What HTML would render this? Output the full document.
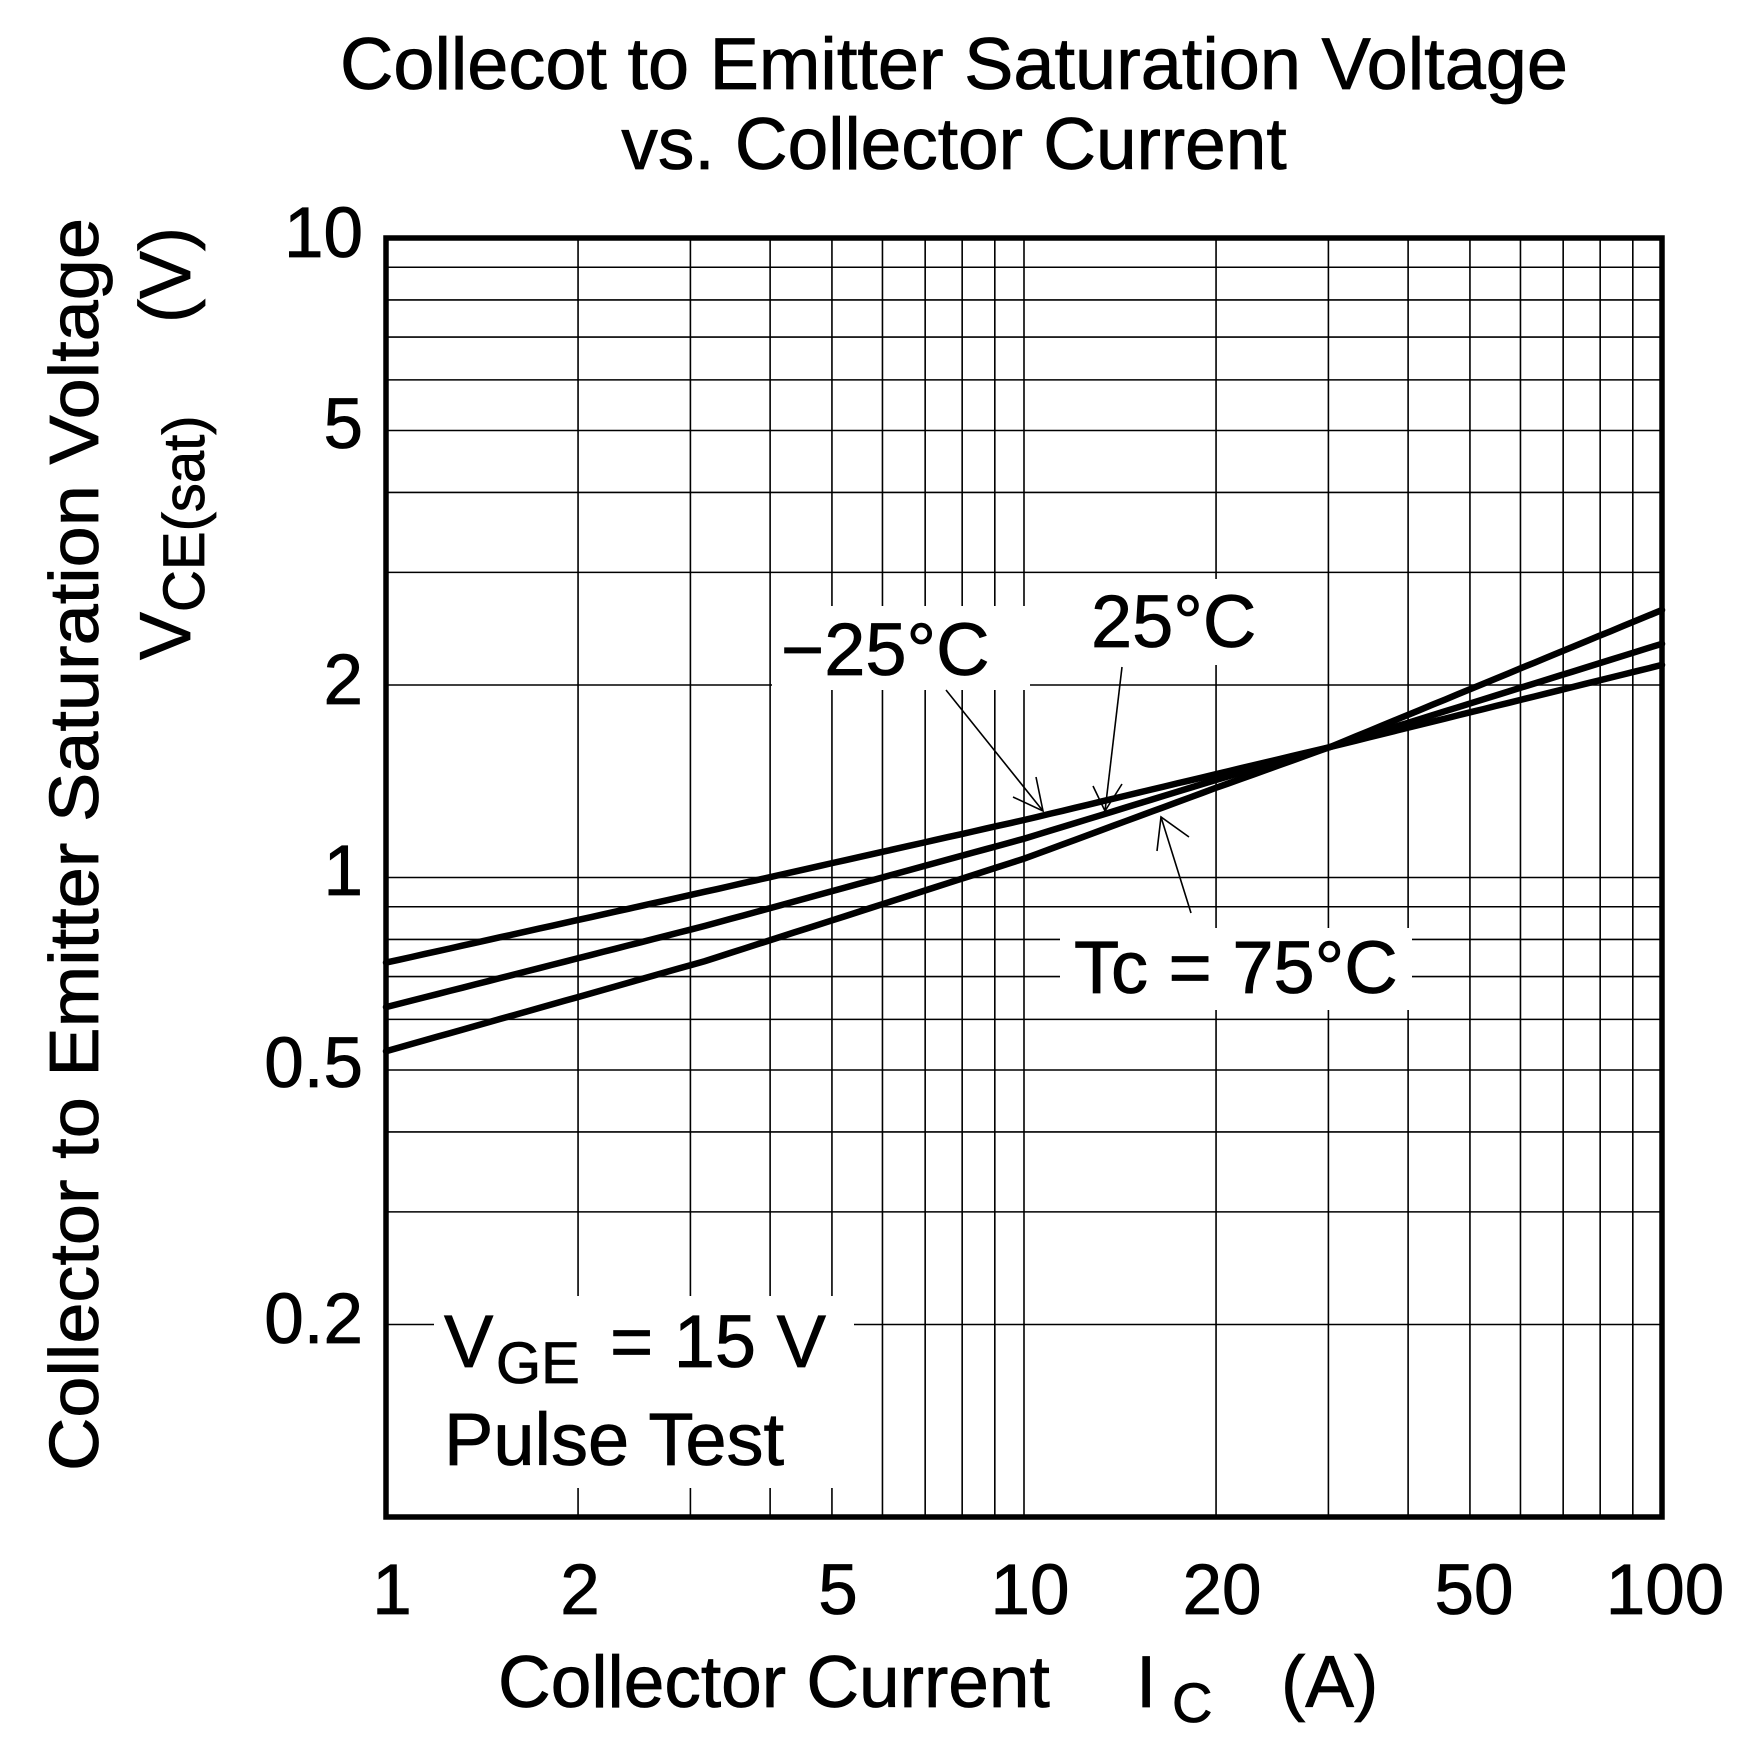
<!DOCTYPE html>
<html><head><meta charset="utf-8">
<style>
html,body{margin:0;padding:0;background:#fff;}
svg{display:block;}
text{font-family:"Liberation Sans",Arial,sans-serif;fill:#000;stroke:#000;stroke-width:0.8;}
</style></head>
<body>
<svg id="s" width="1747" height="1744" viewBox="0 0 1747 1744" xmlns="http://www.w3.org/2000/svg">
<g id="grid" stroke="#000" stroke-width="1.6"></g>
<g id="bg" fill="#fff"></g>
<g id="curves" fill="none" stroke="#000" stroke-width="6.5" stroke-linecap="round"></g>
<rect x="386" y="238" width="1276" height="1279" fill="none" stroke="#000" stroke-width="5.5"/>
<g stroke="#000" stroke-width="1.6" fill="none">
<line x1="946" y1="690" x2="1043" y2="811"/>
<polyline points="1013,797 1043,811 1036,777"/>
<line x1="1122" y1="667" x2="1105" y2="811"/>
<polyline points="1093,786 1105,811 1122,784"/>
<line x1="1191" y1="913" x2="1161" y2="817"/>
<polyline points="1157,851 1161,817 1189,837"/>
</g>
<g font-size="73">
<text x="954" y="89" text-anchor="middle" textLength="1228" lengthAdjust="spacingAndGlyphs">Collecot to Emitter Saturation Voltage</text>
<text x="954" y="169" text-anchor="middle">vs. Collector Current</text>
</g>
<g font-size="71" text-anchor="end">
<text x="363" y="257">10</text>
<text x="363" y="448">5</text>
<text x="363" y="704">2</text>
<text x="363" y="895">1</text>
<text x="363" y="1087">0.5</text>
<text x="363" y="1343">0.2</text>
</g>
<g font-size="71" text-anchor="middle">
<text x="392" y="1614">1</text>
<text x="580" y="1614">2</text>
<text x="838" y="1614">5</text>
<text x="1030" y="1614">10</text>
<text x="1222" y="1614">20</text>
<text x="1474" y="1614">50</text>
<text x="1665" y="1614">100</text>
</g>
<g font-size="73">
<text x="498" y="1707">Collector Current</text>
<text x="1136" y="1707">I</text>
<text x="1172" y="1722" font-size="56">C</text>
<text x="1281" y="1707">(A)</text>
</g>
<text transform="translate(98,1471) rotate(-90)" font-size="70" textLength="1253" lengthAdjust="spacingAndGlyphs">Collector to Emitter Saturation Voltage</text>
<g transform="translate(190,660) rotate(-90)" font-size="72">
<text x="0" y="0">V</text>
<text x="48" y="14" font-size="58">CE(sat)</text>
<text x="337" y="0">(V)</text>
</g>
<g font-size="74">
<text x="781" y="675">−25°C</text>
<text x="1091" y="647">25°C</text>
<text x="1074" y="993">Tc = 75°C</text>
<text x="444" y="1367">V</text>
<text x="496" y="1383" font-size="58">GE</text>
<text x="610" y="1367">= 15 V</text>
<text x="444" y="1465">Pulse Test</text>
</g>
</svg>
<script>
var L=386,R=1662,T=238,B=1517;
function X(i){return L+Math.log10(i)*(R-L)/2;}
function Y(v){return B-(Math.log10(v)+1)*(B-T)/2;}
var g=document.getElementById('grid'),s='';
var vals=[1,2,3,4,5,6,7,8,9];
for(var d=0;d<2;d++)for(var k=0;k<9;k++){var i=vals[k]*Math.pow(10,d);if(i==1)continue;var x=X(i);s+='<line x1="'+x+'" y1="'+T+'" x2="'+x+'" y2="'+B+'"/>';}
for(var d=-1;d<1;d++)for(var k=0;k<9;k++){var v=vals[k]*Math.pow(10,d);if(v==0.1)continue;var y=Y(v);s+='<line x1="'+L+'" y1="'+y+'" x2="'+R+'" y2="'+y+'"/>';}
g.innerHTML=s;
var bg=document.getElementById('bg');
bg.innerHTML='<rect x="772" y="606" width="258" height="84"/><rect x="1082" y="579" width="182" height="86"/><rect x="1060" y="928" width="352" height="82"/><rect x="434" y="1296" width="420" height="192"/>';
function curve(pts){var d='';for(var t=0;t<=100;t++){var lx=t/50;var i=Math.pow(10,lx);
 var lv; for(var k=0;k<pts.length-1;k++){if(lx<=pts[k+1][0]+1e-9){var a=pts[k],b=pts[k+1];var f=(lx-a[0])/(b[0]-a[0]);lv=Math.log10(a[1])+f*(Math.log10(b[1])-Math.log10(a[1]));break;}}
 d+=(t?'L':'M')+X(i).toFixed(1)+','+Y(Math.pow(10,lv)).toFixed(1);}return '<path d="'+d+'"/>';}
var c=document.getElementById('curves');
c.innerHTML=curve([[0,0.736],[0.5,0.95],[1,1.23],[1.3,1.45],[1.48,1.6],[2,2.15]])+
curve([[0,0.627],[0.5,0.84],[1,1.15],[1.3,1.42],[1.48,1.6],[2,2.32]])+
curve([[0,0.535],[0.5,0.74],[1,1.07],[1.3,1.38],[1.48,1.6],[2,2.62]]);
</script>
</body></html>
